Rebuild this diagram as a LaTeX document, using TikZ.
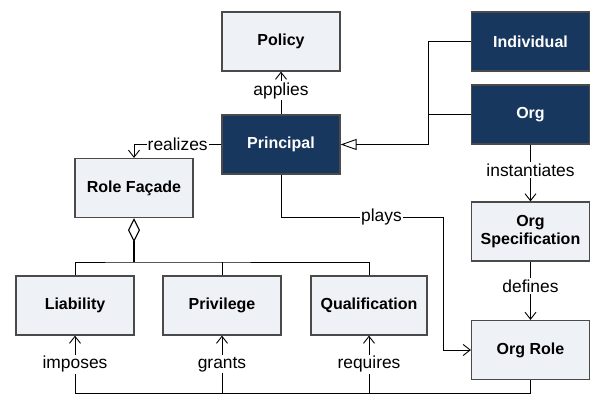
\documentclass[tikz,border=0pt]{standalone}
\usepackage{fontspec}
\setmainfont{Liberation Sans}
\usetikzlibrary{arrows.meta}
\definecolor{lightbox}{HTML}{EEF1F6}
\definecolor{darkbox}{HTML}{17375E}
\definecolor{boxline}{HTML}{4A4A4A}
\tikzset{
  lbox/.style={draw=boxline, line width=1.2pt, fill=lightbox, minimum width=118pt, minimum height=59pt,
    inner sep=0pt, align=center, font=\fontsize{16pt}{19pt}\selectfont\bfseries},
  dbox/.style={lbox, fill=darkbox, text=white},
  conn/.style={draw=black, line width=0.9pt},
  openarr/.style={conn, -{Straight Barb[length=7pt,width=11pt,line width=0.9pt]}},
  lab/.style={fill=white, inner sep=1.5pt, font=\fontsize{17.4pt}{20pt}\selectfont},
}
\begin{document}
\begin{tikzpicture}[x=1pt,y=-1pt]
\useasboundingbox (0,0) rectangle (590,395);
\node[lbox] (policy) at (281,41.5) {Policy};
\node[dbox] (principal) at (281,144.5) {Principal};
\node[dbox] (individual) at (530.5,41.5) {Individual};
\node[dbox] (org) at (530.5,114.5) {Org};
\node[lbox] (role) at (134,188) {Role Façade};
\node[lbox] (liab) at (75,305.5) {Liability};
\node[lbox] (priv) at (222,305.5) {Privilege};
\node[lbox, minimum width=116pt] (qual) at (369,305.5) {Qualification};
\node[lbox] (spec) at (530.5,231.5) {Org\\[-1pt]Specification};
\node[lbox] (orgrole) at (530.5,350) {Org Role};
\coordinate (gen) at (428,144.5);
\coordinate (play) at (443,217);
\coordinate (tbus) at (134,262);
\coordinate (bbus) at (0,393);
% applies
\draw[openarr] (principal.north) -- node[lab, pos=0.55]{applies} (policy.south);
% realizes
\draw[openarr] (principal.west) -| node[lab, pos=0.25, inner xsep=1pt]{realizes} (role.north);
% generalization
\draw[conn, -{Triangle[open,length=16pt,width=11pt,line width=0.9pt]}] (individual.west) -| (gen) -- (principal.east);
\draw[conn] (org.west) -- (org.west -| gen);
% instantiates / defines
\draw[openarr] (org.south) -- node[lab, pos=0.45]{instantiates} (spec.north);
\draw[openarr] (spec.south) -- node[lab, pos=0.42]{defines} (orgrole.north);
% plays
\draw[conn] (principal.south) |- node[lab, pos=0.81, inner xsep=1pt]{plays} (play);
\draw[openarr] (play) |- (orgrole.west);
% aggregation
\draw[conn, line width=1.3pt, {Diamond[open,length=24pt,width=12pt,line width=1.1pt]}-] (role.south) -- (role.south |- tbus);
\draw[conn] (liab.north) |- (tbus) -| (qual.north);
\draw[conn] (priv.north) -- (priv.north |- tbus);
% bottom bus
\draw[conn] (orgrole.south) |- (liab.south |- bbus);
\draw[openarr] (liab.south |- bbus) -- node[lab, pos=0.5]{imposes} (liab.south);
\draw[openarr] (priv.south |- bbus) -- node[lab, pos=0.5]{grants} (priv.south);
\draw[openarr] (qual.south |- bbus) -- node[lab, pos=0.5]{requires} (qual.south);
\end{tikzpicture}
\end{document}
